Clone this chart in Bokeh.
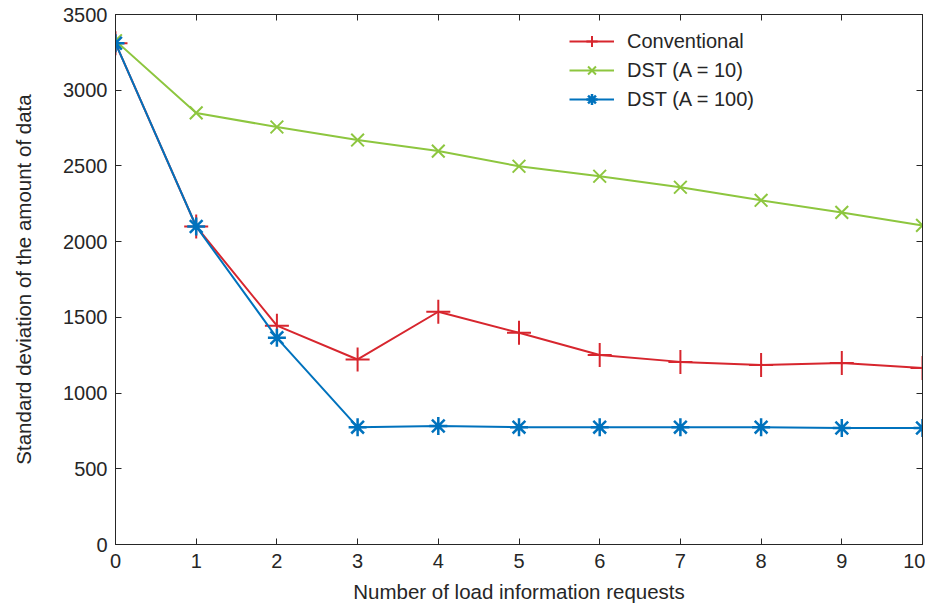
from bokeh.plotting import figure
from bokeh.models import LinearAxis, FixedTicker, Legend, LegendItem, Range1d
from bokeh.embed import file_html
from bokeh.resources import INLINE

requests = [0, 1, 2, 3, 4, 5, 6, 7, 8, 9, 10]
conventional = [3310, 2100, 1445, 1222, 1537, 1398, 1252, 1206, 1186, 1199, 1166]
dst_a10 = [3327, 2850, 2757, 2671, 2598, 2498, 2432, 2359, 2273, 2193, 2107]
dst_a100 = [3310, 2100, 1365, 775, 782, 775, 775, 775, 775, 769, 769]
x_ticks = [0, 1, 2, 3, 4, 5, 6, 7, 8, 9, 10]
y_ticks = [0, 500, 1000, 1500, 2000, 2500, 3000, 3500]

FONT = "Liberation Sans"
AXC = "#262626"
FS = "20px"

p = figure(width=925, height=605, output_backend="svg", toolbar_location=None,
           x_range=Range1d(0, 10), y_range=Range1d(0, 3500),
           min_border_left=115, min_border_right=3, min_border_top=14, min_border_bottom=60)
p.xgrid.visible = False
p.ygrid.visible = False
p.outline_line_color = AXC
p.outline_line_width = 1

for ax, ticks in ((p.xaxis[0], x_ticks), (p.yaxis[0], y_ticks)):
    ax.ticker = FixedTicker(ticks=ticks)
    ax.major_tick_in = 6
    ax.major_tick_out = 0
    ax.minor_tick_line_color = None
    ax.axis_line_color = AXC
    ax.major_tick_line_color = AXC
    ax.major_label_text_font = FONT
    ax.major_label_text_font_size = FS
    ax.major_label_text_color = AXC
    ax.axis_label_text_font = FONT
    ax.axis_label_text_font_size = "20.5px"
    ax.axis_label_text_font_style = "normal"
    ax.axis_label_text_color = AXC
p.xaxis[0].axis_label = "Number of load information requests"
p.yaxis[0].axis_label = "Standard deviation of the amount of data"
p.xaxis[0].major_label_standoff = 9
p.yaxis[0].major_label_standoff = 8
p.xaxis[0].axis_label_standoff = 9
p.yaxis[0].axis_label_standoff = 25

top = LinearAxis(ticker=FixedTicker(ticks=x_ticks),
                 major_label_overrides={t: "" for t in x_ticks},
                 major_tick_in=6, major_tick_out=0, minor_tick_line_color=None,
                 axis_line_color=AXC, major_tick_line_color=AXC, major_label_standoff=0)
right = LinearAxis(ticker=FixedTicker(ticks=y_ticks),
                   major_label_overrides={t: "" for t in y_ticks},
                   major_tick_in=6, major_tick_out=0, minor_tick_line_color=None,
                   axis_line_color=AXC, major_tick_line_color=AXC, major_label_standoff=0)
p.add_layout(top, "above")
p.add_layout(right, "right")

RED = "#D7262E"
GREEN = "#8DC63F"
BLUE = "#0072BD"

l1 = p.line(requests, conventional, line_color=RED, line_width=2)
m1 = p.scatter(requests, conventional, marker="cross", size=24, line_color=RED, line_width=2)
l2 = p.line(requests, dst_a10, line_color=GREEN, line_width=2)
m2 = p.scatter(requests, dst_a10, marker="x", size=18, line_color=GREEN, line_width=2)
l3 = p.line(requests, dst_a100, line_color=BLUE, line_width=2)
m3 = p.scatter(requests, dst_a100, marker="asterisk", size=18, line_color=BLUE, line_width=2.5)

legend = Legend(items=[
    LegendItem(label="Conventional", renderers=[l1, m1]),
    LegendItem(label="DST (A = 10)", renderers=[l2, m2]),
    LegendItem(label="DST (A = 100)", renderers=[l3, m3]),
], location=(454, 431))
legend.border_line_color = None
legend.background_fill_alpha = 0
legend.label_text_font = FONT
legend.label_text_font_size = FS
legend.label_text_color = AXC
legend.glyph_width = 45
legend.glyph_height = 28
legend.label_height = 28
legend.spacing = 1
legend.label_standoff = 13
legend.margin = 0
legend.padding = 4
p.add_layout(legend)

open("out.html", "w").write(file_html(p, INLINE))
